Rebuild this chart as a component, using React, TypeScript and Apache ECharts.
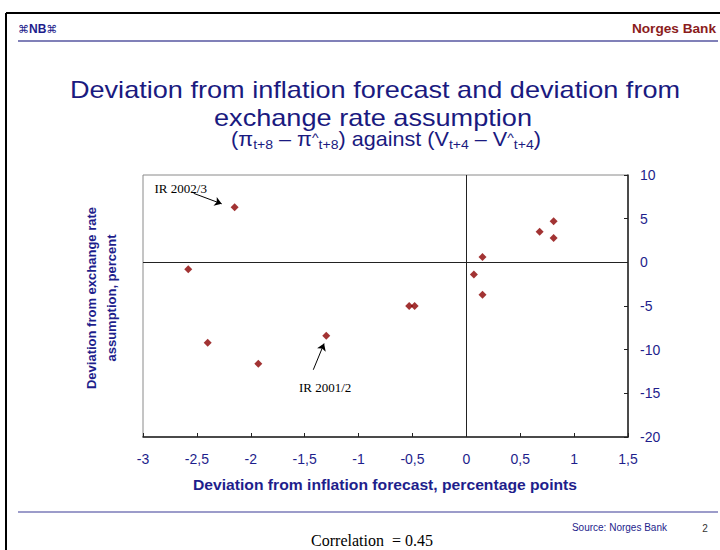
import React, { useEffect, useRef } from "react";
import * as echarts from "echarts";

// Deviation from inflation forecast (percentage points)
const inflationDeviation = [-2.15, -2.58, -2.4, -1.93, -1.3, -0.53, -0.48, 0.15, 0.07, 0.15, 0.68, 0.81, 0.81];
// Deviation from exchange rate assumption (percent)
const exchangeDeviation = [6.3, -0.8, -9.2, -11.6, -8.4, -5.0, -5.0, 0.6, -1.4, -3.7, 3.5, 4.7, 2.8];

const xRange = { min: -3, max: 1.5, interval: 0.5 };
const yRange = { min: -20, max: 10, interval: 5 };

const annotationLabels = ["IR 2002/3", "IR 2001/2"];
const annotationLabelAt = [
  [-2.65, 8.5],
  [-1.31, -14.3],
];
const annotationArrows = [
  [[-2.53, 7.9], [-2.27, 6.7]],
  [[-1.42, -12.3], [-1.32, -9.3]],
];

// subtitle pieces: n = normal, s = subscript, h = hat
const subtitlePieces: [string, string][] = [
  ["(π", "n"], ["t+8", "s"], [" – π", "n"], ["^", "h"], ["t+8", "s"],
  [") against (V", "n"], ["t+4", "s"], [" – V", "n"], ["^", "h"], ["t+4", "s"], [")", "n"],
];

const NAVY = "#1e1e8c";
const TITLE = "#1a1a80";
const SANS = "'Liberation Sans', Arial, sans-serif";
const SERIF = "'Liberation Serif', 'Times New Roman', serif";

const pieceStyle: Record<string, { size: number; cy: number }> = {
  n: { size: 20, cy: 139 },
  s: { size: 13, cy: 145 },
  h: { size: 13, cy: 138 },
};

function buildSubtitle() {
  const ctx = document.createElement("canvas").getContext("2d")!;
  const widths = subtitlePieces.map(([t, k]) => {
    ctx.font = `${pieceStyle[k].size}px "Liberation Sans", Arial, sans-serif`;
    return ctx.measureText(t).width;
  });
  const total = widths.reduce((a, b) => a + b, 0);
  let x = -total / 2;
  return subtitlePieces.map(([t, k], i) => {
    const el = {
      type: "text",
      x,
      y: pieceStyle[k].cy,
      style: {
        text: t,
        align: "left",
        verticalAlign: "middle",
        fontFamily: SANS,
        fontSize: pieceStyle[k].size,
        fill: TITLE,
      },
    };
    x += widths[i];
    return el;
  });
}

export default function App() {
  const ref = useRef<HTMLDivElement>(null);

  useEffect(() => {
    if (!ref.current) return;
    const chart = echarts.init(ref.current, undefined, { renderer: "svg" });
    const points = inflationDeviation.map((x, i) => [x, exchangeDeviation[i]]);

    chart.setOption({
      animation: false,
      backgroundColor: "#ffffff",
      grid: {
        left: 143,
        right: 92,
        top: 175,
        bottom: 113,
        show: true,
        borderColor: "#8a8a8a",
        borderWidth: 1,
      },
      xAxis: {
        type: "value",
        min: xRange.min,
        max: xRange.max,
        interval: xRange.interval,
        position: "bottom",
        axisLine: { onZero: false, lineStyle: { color: "#222", width: 1.5 } },
        axisTick: { inside: true, length: 4, lineStyle: { color: "#222" } },
        splitLine: { show: false },
        axisLabel: {
          margin: 15,
          color: NAVY,
          fontFamily: SANS,
          fontSize: 14,
          formatter: (v: number) => String(v).replace(".", ","),
        },
      },
      yAxis: {
        type: "value",
        min: yRange.min,
        max: yRange.max,
        interval: yRange.interval,
        position: "right",
        axisLine: { show: true, onZero: false, lineStyle: { color: "#222", width: 1.5 } },
        axisTick: { show: true, inside: true, length: 4, lineStyle: { color: "#222" } },
        splitLine: { show: false },
        axisLabel: {
          margin: 12,
          color: NAVY,
          fontFamily: SANS,
          fontSize: 14,
          align: "left",
        },
      },
      series: [
        {
          type: "scatter",
          data: points,
          symbol: "diamond",
          symbolSize: 8,
          itemStyle: { color: "#8b0000" },
          z: 5,
          markLine: {
            silent: true,
            symbol: "none",
            animation: false,
            label: { show: false },
            lineStyle: { color: "#222", width: 1, type: "solid" },
            data: [{ xAxis: 0 }, { yAxis: 0 }],
          },
        },
        {
          type: "scatter",
          data: [],
          markLine: {
            silent: true,
            animation: false,
            label: { show: false },
            lineStyle: { color: "#000", width: 1, type: "solid" },
            data: annotationArrows.map(([a, b]) => [
              { coord: a, symbol: "none" },
              { coord: b, symbol: "arrow", symbolSize: 7 },
            ]),
          },
          markPoint: {
            silent: true,
            animation: false,
            symbol: "circle",
            symbolSize: 0,
            label: {
              show: true,
              position: "inside",
              color: "#000",
              fontFamily: SERIF,
              fontSize: 13,
              formatter: (p: any) => p.name,
            },
            data: annotationLabels.map((name, i) => ({ name, coord: annotationLabelAt[i] })),
          },
        },
      ],
      graphic: [
        // outer frame
        { type: "line", shape: { x1: 6, y1: 13, x2: 720, y2: 13 }, style: { stroke: "#000", lineWidth: 2 } },
        { type: "line", shape: { x1: 6, y1: 13, x2: 6, y2: 550 }, style: { stroke: "#000", lineWidth: 2 } },
        // header / footer rules
        { type: "line", shape: { x1: 18, y1: 41, x2: 718, y2: 41 }, style: { stroke: "#5656a0", lineWidth: 1.5 } },
        { type: "line", shape: { x1: 18, y1: 512, x2: 718, y2: 512 }, style: { stroke: "#3a3a96", lineWidth: 1.2 } },
        {
          type: "text",
          x: 18,
          y: 29,
          style: {
            text: "{o|⌘}{b|NB}{o|⌘}",
            verticalAlign: "middle",
            rich: {
              o: { fontSize: 11, fill: NAVY, fontFamily: "'DejaVu Sans', sans-serif" },
              b: { fontSize: 12, fontWeight: "bold", fill: NAVY, fontFamily: SANS },
            },
          },
        },
        {
          type: "text",
          x: 716,
          y: 29,
          scaleX: 1.05,
          style: {
            text: "Norges Bank",
            align: "right",
            verticalAlign: "middle",
            fontFamily: SANS,
            fontWeight: "bold",
            fontSize: 13,
            fill: "#8b1c1c",
          },
        },
        {
          type: "text",
          x: 375,
          y: 90,
          scaleX: 1.13,
          style: {
            text: "Deviation from inflation forecast and deviation from",
            align: "center",
            verticalAlign: "middle",
            fontFamily: SANS,
            fontSize: 24,
            fill: TITLE,
          },
        },
        {
          type: "text",
          x: 373,
          y: 118,
          scaleX: 1.13,
          style: {
            text: "exchange rate assumption",
            align: "center",
            verticalAlign: "middle",
            fontFamily: SANS,
            fontSize: 24,
            fill: TITLE,
          },
        },
        {
          type: "group",
          x: 386,
          y: 0,
          scaleX: 1.08,
          children: buildSubtitle(),
        },
        {
          type: "text",
          x: 101,
          y: 298,
          rotation: Math.PI / 2,
          style: {
            text: "Deviation from exchange rate\nassumption, percent",
            align: "center",
            verticalAlign: "middle",
            fontFamily: SANS,
            fontWeight: "bold",
            fontSize: 13,
            lineHeight: 20,
            fill: NAVY,
          },
        },
        {
          type: "text",
          x: 385,
          y: 485,
          scaleX: 1.12,
          style: {
            text: "Deviation from inflation forecast, percentage points",
            align: "center",
            verticalAlign: "middle",
            fontFamily: SANS,
            fontWeight: "bold",
            fontSize: 14,
            fill: NAVY,
          },
        },
        {
          type: "text",
          x: 372,
          y: 540,
          style: {
            text: "Correlation  = 0.45",
            align: "center",
            verticalAlign: "middle",
            fontFamily: SERIF,
            fontSize: 16,
            fill: "#000",
          },
        },
        {
          type: "text",
          x: 667,
          y: 527,
          style: {
            text: "Source: Norges Bank",
            align: "right",
            verticalAlign: "middle",
            fontFamily: SANS,
            fontSize: 10,
            fill: NAVY,
          },
        },
        {
          type: "text",
          x: 705,
          y: 528,
          style: {
            text: "2",
            align: "center",
            verticalAlign: "middle",
            fontFamily: SANS,
            fontSize: 10,
            fill: "#333",
          },
        },
      ],
    });

    return () => chart.dispose();
  }, []);

  return (
    <div
      ref={ref}
      style={{ position: "fixed", left: 0, top: 0, width: 720, height: 550, background: "#fff" }}
    />
  );
}
